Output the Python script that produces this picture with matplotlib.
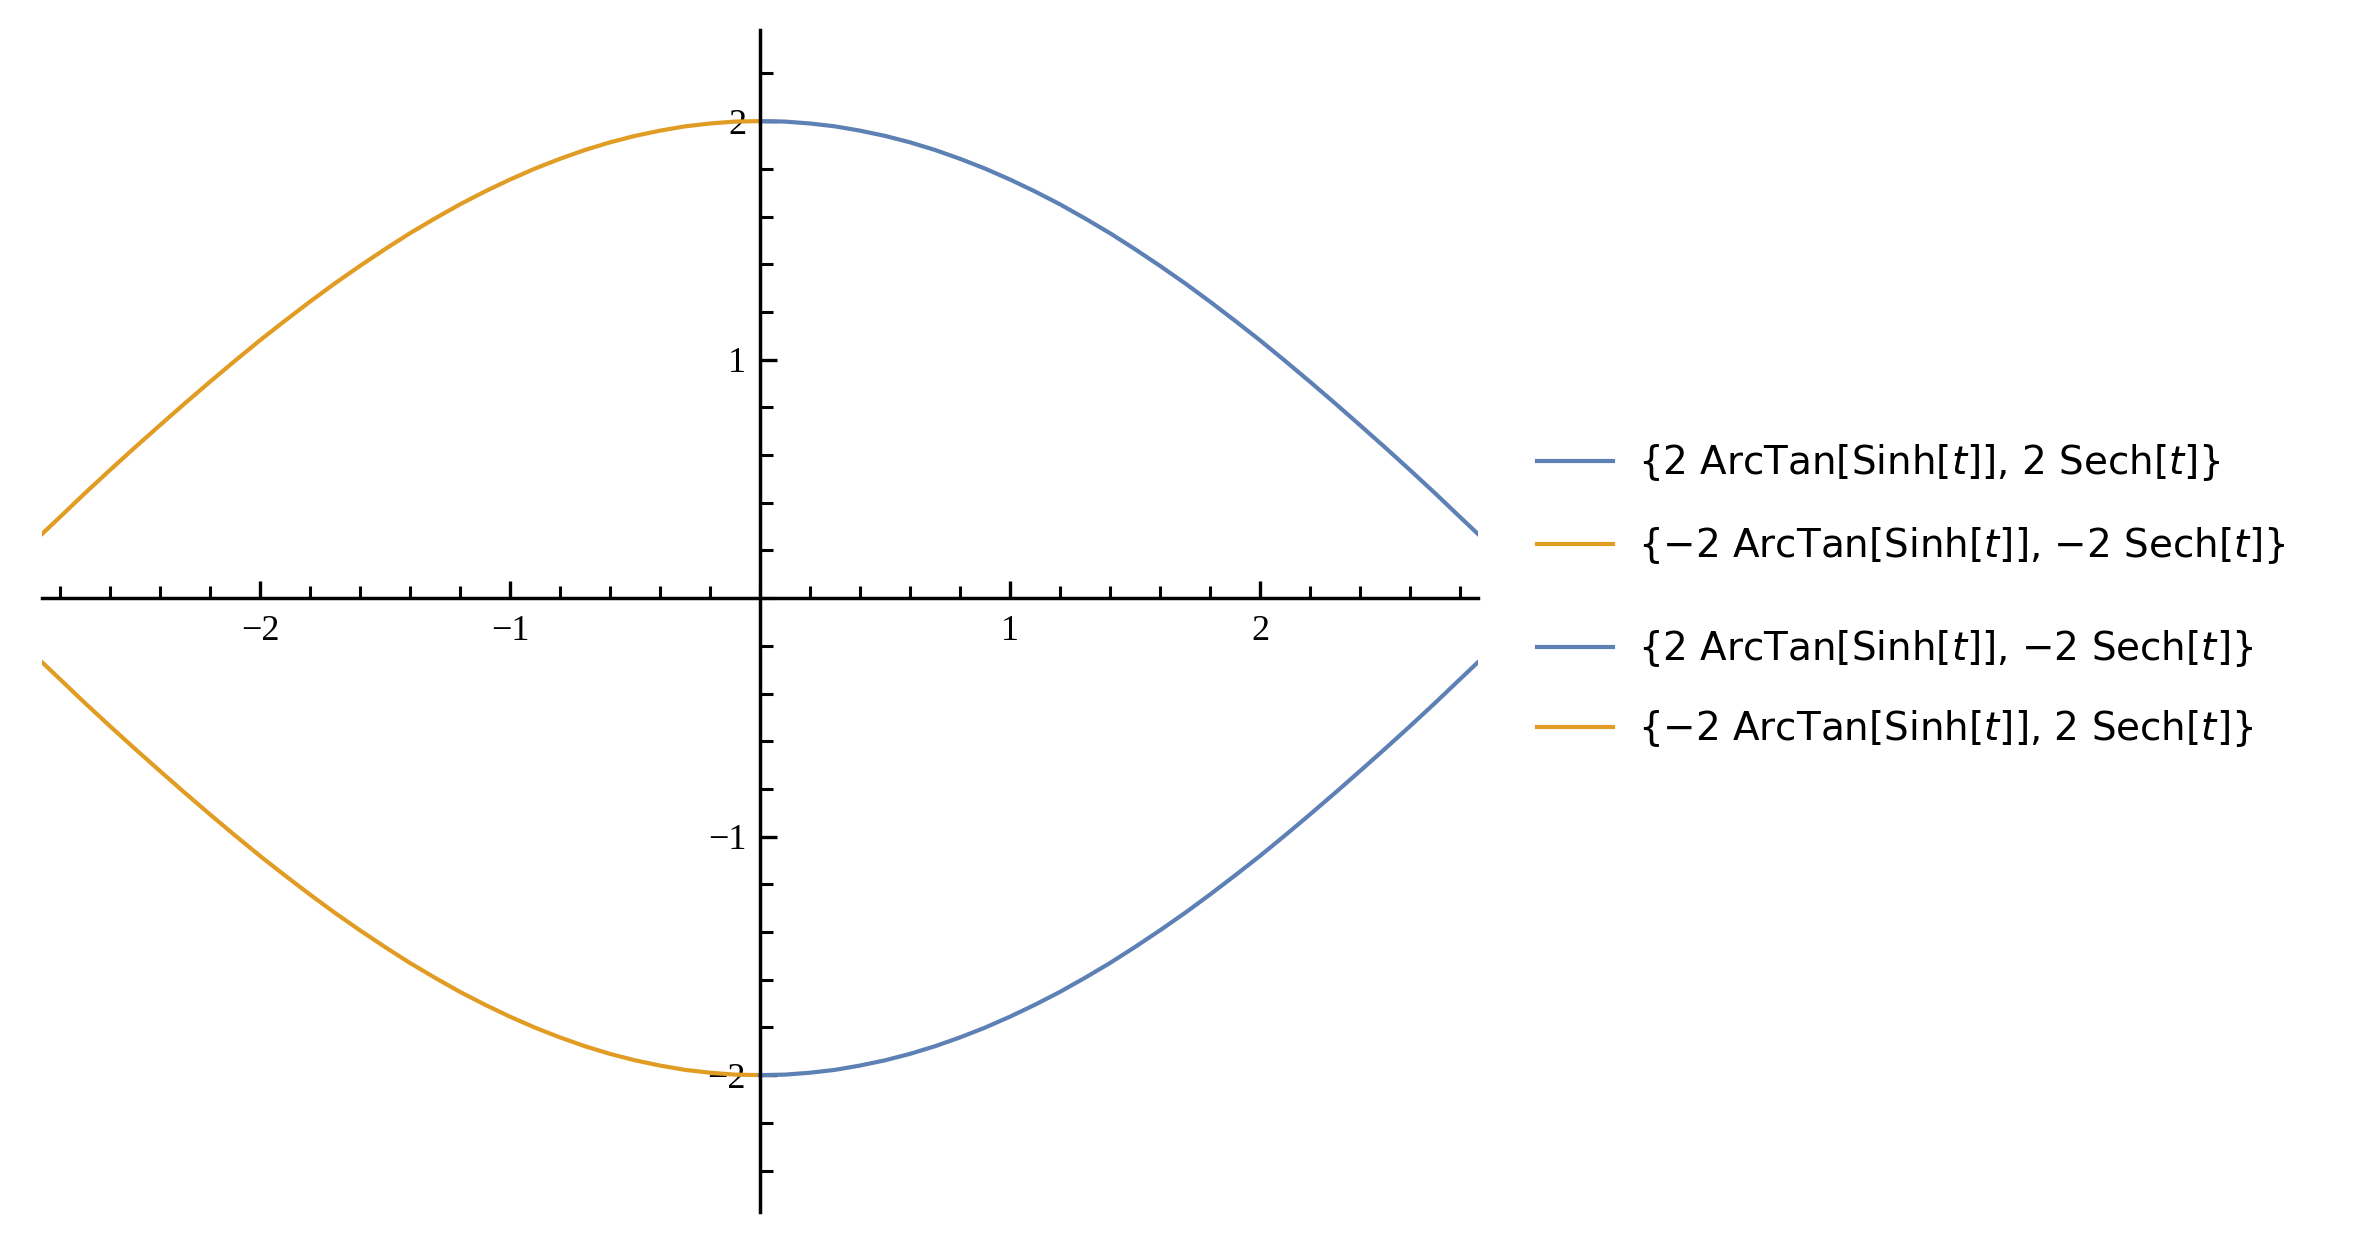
import matplotlib
matplotlib.use("Agg")
import matplotlib.pyplot as plt
from matplotlib.ticker import FixedLocator, MultipleLocator

# upper-right arc (x >= 0, y > 0)
x_half = [0.0, 0.1, 0.2, 0.3, 0.4, 0.5, 0.6, 0.7, 0.8, 0.9, 1.0,
          1.1, 1.2, 1.3, 1.4, 1.5, 1.6, 1.7, 1.8, 1.9, 2.0,
          2.1, 2.2, 2.3, 2.4, 2.5, 2.6, 2.7, 2.8, 2.9]
y_half = [2.000, 1.998, 1.990, 1.978, 1.960, 1.938, 1.911, 1.879, 1.842, 1.801, 1.755,
          1.705, 1.651, 1.592, 1.530, 1.463, 1.393, 1.320, 1.243, 1.163, 1.081,
          0.995, 0.907, 0.817, 0.725, 0.632, 0.537, 0.440, 0.340, 0.241]

# sign of x / y for each of the four curves, in plotting order
x_signs = [1, -1, 1, -1]
y_signs = [1, -1, -1, 1]
labels = [
    r"{2 ArcTan[Sinh[$t$]], 2 Sech[$t$]}",
    r"{−2 ArcTan[Sinh[$t$]], −2 Sech[$t$]}",
    r"{2 ArcTan[Sinh[$t$]], −2 Sech[$t$]}",
    r"{−2 ArcTan[Sinh[$t$]], 2 Sech[$t$]}",
]
colors = ["#5E81B5", "#E19C24", "#5E81B5", "#E19C24"]

major_ticks = [-2, -1, 1, 2]

plt.rcParams["mathtext.fontset"] = "dejavusans"

W, H = 2357, 1233
fig = plt.figure(figsize=(W / 100, H / 100), dpi=100)
ax = fig.add_axes([42 / W, 21 / H, (1478 - 42) / W, (1212 - 30) / H])

handles = []
for sx, sy, c in zip(x_signs, y_signs, colors):
    xs = [sx * v for v in x_half]
    ys = [sy * v for v in y_half]
    ln, = ax.plot(xs, ys, color=c, lw=3.0, solid_joinstyle="round")
    handles.append(ln)

ax.set_xlim(-2.872, 2.872)
ax.set_ylim(-2.574, 2.382)

# Mathematica-style axes through the origin
for s in ["top", "right"]:
    ax.spines[s].set_visible(False)
ax.spines["left"].set_position(("data", 0))
ax.spines["bottom"].set_position(("data", 0))
for s in ["left", "bottom"]:
    ax.spines[s].set_linewidth(2.5)

ax.xaxis.set_major_locator(FixedLocator(major_ticks))
ax.yaxis.set_major_locator(FixedLocator(major_ticks))
ax.xaxis.set_minor_locator(MultipleLocator(0.2))
ax.yaxis.set_minor_locator(MultipleLocator(0.2))

ax.tick_params(which="major", direction="in", length=12, width=2.4)
ax.tick_params(which="minor", direction="in", length=9, width=2.2)
ax.tick_params(axis="x", which="major", pad=12)
ax.tick_params(axis="y", which="major", pad=10)
for lab in ax.get_xticklabels() + ax.get_yticklabels():
    lab.set_fontfamily(["Liberation Serif", "DejaVu Serif"])
    lab.set_fontsize(26)

# legend: one entry per row so the two groups keep their gap
row_y = [463, 546, 649, 729]
for h, lab, y in zip(handles, labels, row_y):
    leg = fig.legend([h], [lab], loc="center left",
                     bbox_to_anchor=(1537 / W, 1 - y / H),
                     frameon=False, fontsize=28, handlelength=1.95,
                     handletextpad=0.65, borderpad=0, borderaxespad=0)
    for t in leg.get_texts():
        t.set_fontfamily(["DejaVu Sans"])
    for l in leg.get_lines():
        l.set_linewidth(3.0)

fig.savefig("out.png", dpi=100, facecolor="white")
